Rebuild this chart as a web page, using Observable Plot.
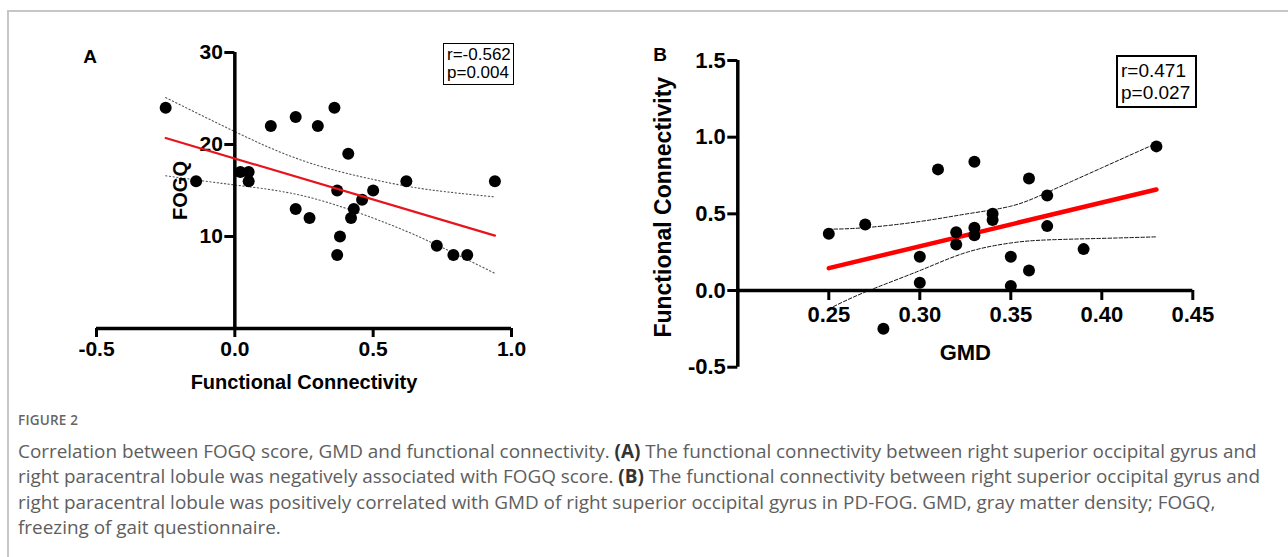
<!DOCTYPE html>
<html><head><meta charset="utf-8">
<script src="https://cdn.jsdelivr.net/npm/d3@7"></script>
<script src="https://cdn.jsdelivr.net/npm/@observablehq/plot@0.6"></script>
<style>
html,body{margin:0;padding:0;background:#fff;}
#wrap{position:relative;width:1288px;height:557px;overflow:hidden;background:#fff;font-family:"Liberation Sans",Arial,sans-serif;}
#frame{position:absolute;left:7px;top:10px;width:1400px;height:700px;border-left:2px solid #c6c6c6;border-top:2px solid #c6c6c6;}
.plot{position:absolute;top:0;}
.letter{position:absolute;font-weight:bold;font-size:19px;transform:translate(-50%,-50%);color:#000;}
.stat{position:absolute;box-sizing:border-box;border:1px solid #000;background:#fff;color:#000;white-space:nowrap;}
#caption{position:absolute;left:18px;top:411px;width:1400px;color:#5e5e5e;font-family:"Open Sans",sans-serif;white-space:nowrap;}
#caption .fig{font-size:13.5px;line-height:19px;font-weight:600;letter-spacing:0.2px;color:#666;margin-bottom:9px;}
#caption .txt{font-size:18.9px;line-height:25.4px;}
#caption b{color:#333;}
</style></head>
<body>
<div id="wrap">
  <div id="frame"></div>
  <div id="plotA" class="plot" style="left:0px"></div>
  <div id="plotB" class="plot" style="left:620px"></div>
  <div class="letter" style="left:90px;top:57px">A</div>
  <div class="letter" style="left:660px;top:55px">B</div>
  <div class="stat" style="left:443px;top:43px;width:71px;height:42px;font-size:17px;line-height:18px;padding:2px 0 0 3px;">r=-0.562<br>p=0.004</div>
  <div class="stat" style="left:1116px;top:55px;width:81px;height:53px;border-width:2px;font-size:19px;line-height:22px;padding:3px 0 0 3px;">r=0.471<br>p=0.027</div>
  <div id="caption">
    <div class="fig">FIGURE 2</div>
    <div class="txt">Correlation between FOGQ score, GMD and functional connectivity. <b>(A)</b> The functional connectivity between right superior occipital gyrus and<br>right paracentral lobule was negatively associated with FOGQ score. <b>(B)</b> The functional connectivity between right superior occipital gyrus and<br>right paracentral lobule was positively correlated with GMD of right superior occipital gyrus in PD-FOG. GMD, gray matter density; FOGQ,<br>freezing of gait questionnaire.</div>
  </div>
</div>
<script>
// ---------- Panel A data ----------
const fcA   = [-0.25,-0.14,0.02,0.05,0.05,0.13,0.22,0.30,0.36,0.22,0.27,0.37,0.41,0.38,0.37,0.42,0.43,0.46,0.50,0.62,0.73,0.79,0.84,0.94];
const fogqA = [24,16,17,17,16,22,23,22,24,13,12,15,19,10,8,12,13,14,15,16,9,8,8,16];
const fitAx = [-0.25, 0.94];
const fitAy = [20.7, 10.1];
const bandAx    = [-0.25, 0.0, 0.25, 0.5, 0.7, 0.94];
const bandAUp   = [25.1, 21.4, 18.2, 16.2, 15.1, 14.3];
const bandALow  = [16.6, 15.6, 14.4, 12.0, 9.5, 6.0];
const xTicksA = [-0.5, 0.0, 0.5, 1.0];
const yTicksA = [10, 20, 30];

// ---------- Panel B data ----------
const gmdB = [0.25,0.27,0.28,0.30,0.30,0.31,0.32,0.32,0.33,0.33,0.33,0.34,0.34,0.35,0.35,0.36,0.36,0.37,0.37,0.39,0.43];
const fcB  = [0.37,0.43,-0.25,0.22,0.05,0.79,0.38,0.30,0.84,0.41,0.36,0.50,0.46,0.22,0.03,0.73,0.13,0.62,0.42,0.27,0.94];
const fitBx = [0.25, 0.43];
const fitBy = [0.146, 0.659];
const bandBx   = [0.25, 0.27, 0.30, 0.326, 0.35, 0.37, 0.40, 0.43];
const bandBUp  = [0.40, 0.41, 0.45, 0.50, 0.55, 0.64, 0.80, 0.96];
const bandBLow = [-0.12, -0.01, 0.13, 0.25, 0.31, 0.33, 0.34, 0.35];
const xTicksB = [0.25, 0.30, 0.35, 0.40, 0.45];
const yTicksB = [-0.5, 0.0, 0.5, 1.0, 1.5];

const FONT = "Liberation Sans, Arial, sans-serif";

// ---------- Build tables ----------
const ptsA = fcA.map((x, i) => ({x, y: fogqA[i]}));
const fitA = fitAx.map((x, i) => ({x, y: fitAy[i]}));
const bandA = bandAx.map((x, i) => ({x, up: bandAUp[i], low: bandALow[i]}));
const ptsB = gmdB.map((x, i) => ({x, y: fcB[i]}));
const fitB = fitBx.map((x, i) => ({x, y: fitBy[i]}));
const bandB = bandBx.map((x, i) => ({x, up: bandBUp[i], low: bandBLow[i]}));

// ---------- Panel A ----------
{
  const W = 560, H = 400, ml = 96, mr = 49, mt = 52, mb = 72;
  const xDom = [-0.5, 1.0];
  const dxAxis = (W - ml - mr) * (0 - xDom[0]) / (xDom[1] - xDom[0]);
  const p = Plot.plot({
    width: W, height: H, marginLeft: ml, marginRight: mr, marginTop: mt, marginBottom: mb,
    x: {domain: xDom}, y: {domain: [0, 30]},
    style: {fontFamily: FONT, background: "transparent", overflow: "visible", color: "#000"},
    marks: [
      Plot.line(bandA, {x: "x", y: "up", curve: "natural", stroke: "#555", strokeWidth: 1.1, strokeDasharray: "1.3,2.4"}),
      Plot.line(bandA, {x: "x", y: "low", curve: "natural", stroke: "#555", strokeWidth: 1.1, strokeDasharray: "1.3,2.4"}),
      Plot.ruleY([0], {strokeWidth: 3.5, stroke: "#000"}),
      Plot.ruleX([0], {strokeWidth: 3.5, stroke: "#000"}),
      Plot.axisX({ticks: xTicksA, tickFormat: d => d.toFixed(1), tickSize: 9, tickPadding: 4, strokeWidth: 3, fontSize: 21, fontWeight: "bold", label: null}),
      Plot.axisY({ticks: yTicksA, tickFormat: d => String(d), tickSize: 10, tickPadding: 2, dx: dxAxis, strokeWidth: 3, fontSize: 21, fontWeight: "bold", label: null}),
      Plot.dot(ptsA, {x: "x", y: "y", r: 6, fill: "#000", stroke: "none"}),
      Plot.line(fitA, {x: "x", y: "y", stroke: "#e8141b", strokeWidth: 2.2}),
      Plot.text(["FOGQ"], {text: d => d, frameAnchor: "left", textAnchor: "middle", lineAnchor: "middle", rotate: -90, dx: 84, fontSize: 20, fontWeight: "bold"}),
      Plot.text(["Functional Connectivity"], {text: d => d, frameAnchor: "bottom", textAnchor: "middle", lineAnchor: "middle", dy: 54, fontSize: 20, fontWeight: "bold"})
    ]
  });
  document.getElementById("plotA").appendChild(p);
}

// ---------- Panel B ----------
{
  const W = 620, H = 440, ml = 117.3, mr = 47.7, mt = 60, mb = 73.3;
  const yDom = [-0.5, 1.5];
  const dyAxis = -(H - mt - mb) * (0 - yDom[0]) / (yDom[1] - yDom[0]);
  const p = Plot.plot({
    width: W, height: H, marginLeft: ml, marginRight: mr, marginTop: mt, marginBottom: mb,
    x: {domain: [0.2, 0.45]}, y: {domain: yDom},
    style: {fontFamily: FONT, background: "transparent", overflow: "visible", color: "#000"},
    marks: [
      Plot.line(bandB, {x: "x", y: "up", curve: "natural", stroke: "#111", strokeWidth: 1, strokeDasharray: "3.5,2"}),
      Plot.line(bandB, {x: "x", y: "low", curve: "natural", stroke: "#111", strokeWidth: 1, strokeDasharray: "3.5,2"}),
      Plot.ruleY([0], {strokeWidth: 3.5, stroke: "#000"}),
      Plot.ruleX([0.2], {strokeWidth: 3.5, stroke: "#000"}),
      Plot.axisX({ticks: xTicksB, tickFormat: d => d.toFixed(2), tickSize: 10, tickPadding: 6, dy: dyAxis, strokeWidth: 3, fontSize: 22, fontWeight: "bold", label: null}),
      Plot.axisY({ticks: yTicksB, tickFormat: d => d.toFixed(1), tickSize: 10, tickPadding: 2, strokeWidth: 3, fontSize: 22, fontWeight: "bold", label: null}),
      Plot.line(fitB, {x: "x", y: "y", stroke: "#ff0000", strokeWidth: 4.5}),
      Plot.dot(ptsB, {x: "x", y: "y", r: 6, fill: "#000", stroke: "none"}),
      Plot.text(["Functional Connectivity"], {text: d => d, frameAnchor: "left", textAnchor: "middle", lineAnchor: "middle", rotate: -90, dx: -74.5, dy: -6.6, fontSize: 23, fontWeight: "bold"}),
      Plot.text(["GMD"], {text: d => d, frameAnchor: "bottom", textAnchor: "middle", lineAnchor: "middle", dy: -14, fontSize: 22, fontWeight: "bold"})
    ]
  });
  document.getElementById("plotB").appendChild(p);
}
</script>
</body></html>
